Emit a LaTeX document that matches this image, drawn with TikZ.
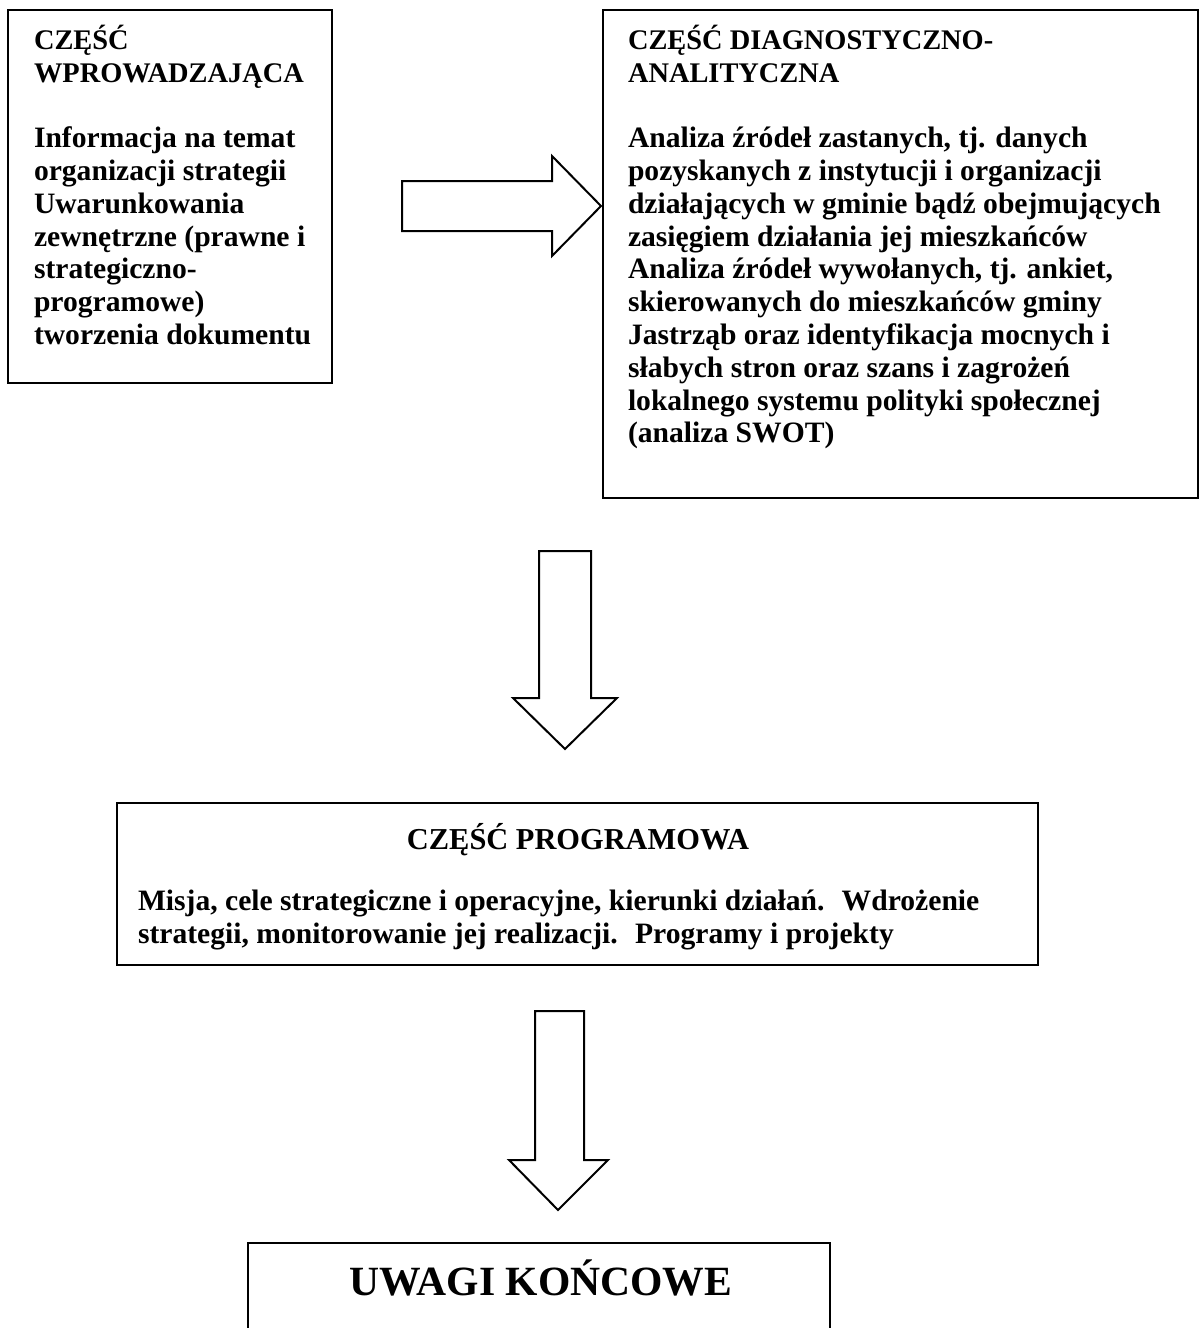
\documentclass[tikz,border=0pt]{standalone}
\usepackage{fontspec}
\setmainfont{Liberation Serif}

\begin{document}
\tikzset{every picture/.style={line width=1pt}}
\tikzset{
  frame/.style={draw, line width=1pt},
  blockarrow/.style={draw, line width=1pt, line join=miter},
  headfont/.style={font=\fontsize{14.2}{16.4}\selectfont\bfseries},
  bodytxt/.style={anchor=north west, inner sep=0pt, align=left, font=\fontsize{14.8}{16.4}\selectfont\bfseries},
  titletxt/.style={anchor=north, inner sep=0pt, align=center, font=\fontsize{15.2}{16.4}\selectfont\bfseries},
  bigtitle/.style={anchor=north, inner sep=0pt, font=\fontsize{20.8}{24}\selectfont\bfseries}
}

\begin{tikzpicture}[x=0.5pt,y=0.5pt,yscale=-1,xscale=1]
\useasboundingbox (0,0) rectangle (1200,1328);

%Shape: Rectangle [id:intro]
\draw[frame] (8,10) rectangle (332,383);
%Shape: Rectangle [id:diag]
\draw[frame] (603,10) rectangle (1198,498);
%Shape: Rectangle [id:prog]
\draw[frame] (117,803) rectangle (1038,965);
%Shape: Rectangle [id:final]
\draw[frame] (248,1345) -- (248,1243) -- (830,1243) -- (830,1345);

%Shape: Right Arrow [id:arrA]
\draw[blockarrow] (402,181) -- (552,181) -- (552,156) -- (601,206) -- (552,256) -- (552,231) -- (402,231) -- cycle;
%Shape: Down Arrow [id:arrB]
\draw[blockarrow] (539,551) -- (591,551) -- (591,698) -- (617,698) -- (565,749) -- (513,698) -- (539,698) -- cycle;
%Shape: Down Arrow [id:arrC]
\draw[blockarrow] (535,1011) -- (584,1011) -- (584,1160) -- (608,1160) -- (558,1210) -- (509,1160) -- (535,1160) -- cycle;

% Text Node
\node[bodytxt] (introtxt) at (33,24) {{\fontsize{14.2}{16.4}\selectfont CZĘŚĆ}\\{\fontsize{14.2}{16.4}\selectfont WPROWADZAJĄCA}\\[16.4pt]Informacja na temat\\organizacji strategii\\Uwarunkowania\\zewnętrzne (prawne i\\strategiczno-\\programowe)\\tworzenia dokumentu};
% Text Node
\node[bodytxt] (diagtxt) at (627,24) {{\fontsize{14.2}{16.4}\selectfont CZĘŚĆ DIAGNOSTYCZNO-}\\{\fontsize{14.2}{16.4}\selectfont ANALITYCZNA}\\[16.4pt]Analiza źródeł zastanych, tj. danych\\pozyskanych z instytucji i organizacji\\działających w gminie bądź obejmujących\\zasięgiem działania jej mieszkańców\\Analiza źródeł wywołanych, tj. ankiet,\\skierowanych do mieszkańców gminy\\Jastrząb oraz identyfikacja mocnych i\\słabych stron oraz szans i zagrożeń\\lokalnego systemu polityki społecznej\\(analiza SWOT)};
% Text Node
\node[titletxt] (progtitle) at (578,822) {CZĘŚĆ PROGRAMOWA};
% Text Node
\node[bodytxt] (progtxt) at (137,889) {Misja, cele strategiczne i operacyjne, kierunki działań.~ Wdrożenie\\strategii, monitorowanie jej realizacji.~ Programy i projekty};
% Text Node
\node[bigtitle] (finaltitle) at (541,1259) {UWAGI KOŃCOWE};

\end{tikzpicture}
\end{document}
